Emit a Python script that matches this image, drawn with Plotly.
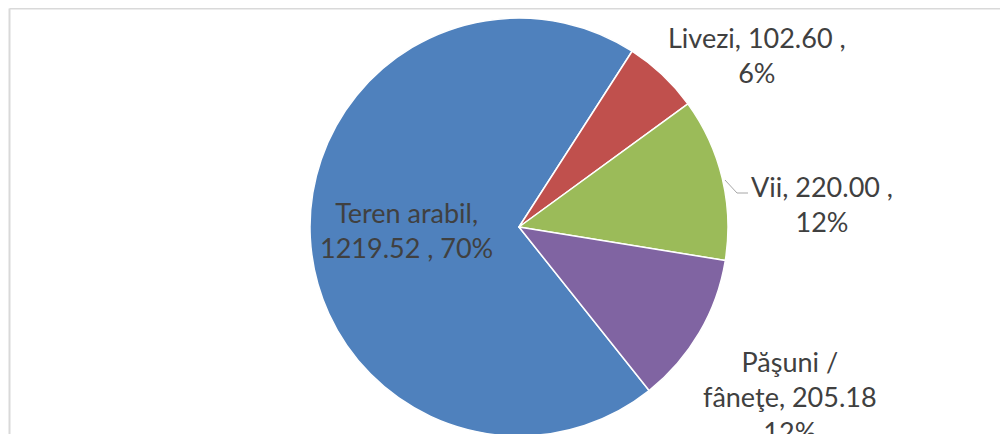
import plotly.graph_objects as go

labels = ["Teren arabil", "Livezi", "Vii", "Păşuni / fâneţe"]
values = [1219.52, 102.60, 220.00, 205.18]
percents = [70, 6, 12, 12]
colors = ["#4F81BD", "#C0504D", "#9BBB59", "#8064A2"]

W, H = 1008, 434
OFF = 8  # page body margin offset

def px(x):
    return (x - OFF) / W

def py(y):
    return 1 - (y - OFF) / H

# label texts (line breaks as in reference)
texts = [
    f"{labels[0]},<br>{values[0]:.2f} , {percents[0]}%",
    f"{labels[1]}, {values[1]:.2f} ,<br>{percents[1]}%",
    f"{labels[2]}, {values[2]:.2f} ,<br>{percents[2]}%",
    f"{labels[3].replace(' / ', ' /<br>')}, {values[3]:.2f}<br>{percents[3]}%",
]
label_pos = [(406, 230), (757, 55), (822, 204), (790, 396)]

fig = go.Figure(go.Pie(
    labels=labels, values=values, sort=False, direction="clockwise",
    rotation=141.5, textinfo="none", hoverinfo="none",
    marker=dict(colors=colors, line=dict(color="white", width=1.5)),
    domain=dict(x=[px(310), px(728)], y=[py(436), py(18)]),
    showlegend=False,
))

annotations = []
for t, (x, y) in zip(texts, label_pos):
    annotations.append(dict(
        text=t, x=px(x), y=py(y), xref="paper", yref="paper",
        xanchor="center", yanchor="middle", showarrow=False,
        font=dict(family="Lato", size=27, color="#404040"), align="center",
    ))

shapes = [
    # chart frame
    dict(type="line", xref="paper", yref="paper", x0=px(9.5), x1=1.05, y0=py(8.5), y1=py(8.5),
         line=dict(color="#D9D9D9", width=2)),
    dict(type="line", xref="paper", yref="paper", x0=px(9.5), x1=px(9.5), y0=py(8.5), y1=-0.05,
         line=dict(color="#D9D9D9", width=2)),
    # leader line for Vii
    dict(type="path", xref="paper", yref="paper",
         path=f"M {px(725)},{py(180)} L {px(737)},{py(193)} L {px(748)},{py(193)}",
         line=dict(color="#A6A6A6", width=1)),
]

fig.update_layout(
    width=W, height=H, margin=dict(l=0, r=0, t=0, b=0),
    paper_bgcolor="white", plot_bgcolor="white",
    annotations=annotations, shapes=shapes,
)

fig.write_html("out.html")
